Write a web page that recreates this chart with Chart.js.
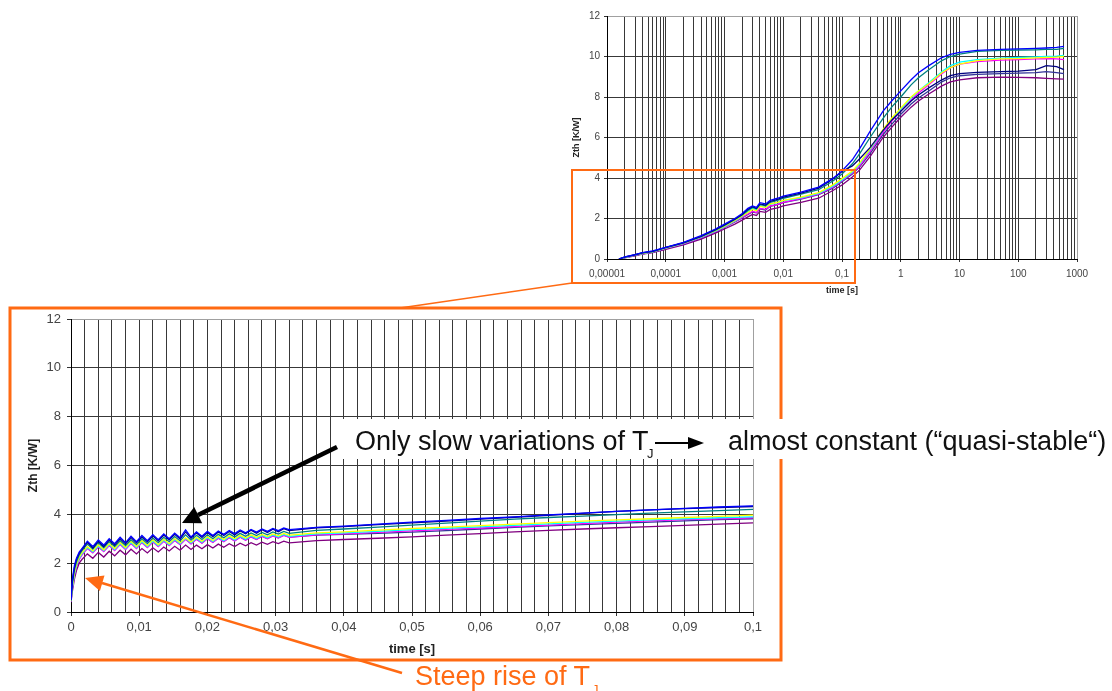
<!DOCTYPE html>
<html lang="de">
<head>
<meta charset="UTF-8">
<title>Zth – time</title>
<script src="https://cdn.jsdelivr.net/npm/chart.js"></script>
<style>
    body {
        margin: 0;
        width: 1112px;
        height: 691px;
        overflow: hidden;
        background: #fff;
        position: relative;
        font-family: "Liberation Sans", Arial, sans-serif;
    }
    canvas { position: absolute; }
    #topChart { left: 540px; top: 0; }
    #bottomChart { left: 0; top: 300px; }
    svg { position: absolute; left: 0; top: 0; }
</style>
</head>
<body>
<canvas id="topChart" width="560" height="300"></canvas>
<canvas id="bottomChart" width="790" height="370"></canvas>

<svg width="1112" height="691" font-family="'Liberation Sans', Arial, sans-serif">
    <!-- zoom frame + connector -->
    <rect x="572" y="170" width="283" height="113" fill="none" stroke="#ff6a13" stroke-width="2"/>
    <line x1="572" y1="283" x2="400" y2="308" stroke="#ff6a13" stroke-width="1.5"/>
    <rect x="10" y="308" width="771" height="352" fill="none" stroke="#ff6a13" stroke-width="3"/>

    <!-- text band -->
    <rect x="337" y="419" width="775" height="40" fill="#fff"/>
    <line x1="337" y1="447" x2="198" y2="515" stroke="#000" stroke-width="4.5"/>
    <polygon points="182,523 202.2,523.2 194.2,507" fill="#000"/>
    <text x="355" y="450" font-size="27" fill="#111">Only slow variations of T</text>
    <text x="647" y="458" font-size="13" fill="#111">J</text>
    <line x1="655" y1="443" x2="690" y2="443" stroke="#000" stroke-width="2"/>
    <polygon points="704,443 688,437 688,449" fill="#000"/>
    <text x="728" y="450" font-size="27" fill="#111">almost constant (“quasi-stable“)</text>

    <!-- steep rise -->
    <line x1="402" y1="673" x2="102" y2="583" stroke="#ff6a13" stroke-width="2.5"/>
    <polygon points="85,578 104.5,575.5 99.9,590.9" fill="#ff6a13"/>
    <text x="415" y="685" font-size="27" fill="#ff6a13">Steep rise of T</text>
    <text x="592" y="694" font-size="13" fill="#ff6a13">J</text>
</svg>

<script>
    // Farben der Messreihen (Excel-Standard)
    const seriesColors = ['#0000ff', '#000080', '#008080', '#ffff00', '#00ffff', '#ff00ff', '#333399', '#800080'];

    // --- oberes Diagramm: logarithmische Zeitachse ---
    const topDecades = [0.00001, 0.0001, 0.001, 0.01, 0.1, 1, 10, 100, 1000];
    const topTickLabels = ['0,00001', '0,0001', '0,001', '0,01', '0,1', '1', '10', '100', '1000'];

    const tLog = [0.000016, 0.00002, 0.00003, 0.00004, 0.00006,
        0.0001, 0.0002, 0.0004, 0.0007,
        0.001, 0.0015, 0.002, 0.0025, 0.003, 0.0035, 0.004, 0.005, 0.006, 0.008,
        0.01, 0.02, 0.04, 0.07,
        0.1, 0.15, 0.2, 0.3, 0.5, 0.7,
        1, 1.5, 2, 3, 5, 7,
        10, 20, 50,
        100, 200, 300, 450, 600];

    const logBlue = [0, 0.1, 0.22, 0.32, 0.4, 0.58, 0.82, 1.15, 1.48,
        1.72, 2.0, 2.25, 2.5, 2.62, 2.55, 2.78, 2.72, 2.9, 3.0,
        3.1, 3.3, 3.55, 3.98, 4.35, 4.9, 5.45, 6.3, 7.3, 7.8,
        8.3, 8.85, 9.2, 9.55, 9.95, 10.1, 10.2, 10.3, 10.35,
        10.38, 10.4, 10.42, 10.45, 10.5];
    const logNavy = [0, 0.09, 0.21, 0.3, 0.38, 0.57, 0.8, 1.12, 1.45,
        1.68, 1.96, 2.2, 2.45, 2.58, 2.5, 2.72, 2.66, 2.85, 2.95,
        3.05, 3.25, 3.5, 3.95, 4.32, 4.6, 4.95, 5.5, 6.35, 6.85,
        7.3, 7.8, 8.1, 8.45, 8.85, 9.05, 9.15, 9.22, 9.25,
        9.28, 9.35, 9.55, 9.5, 9.35];
    const logTeal = [0, 0.09, 0.2, 0.3, 0.37, 0.56, 0.8, 1.12, 1.43,
        1.66, 1.95, 2.18, 2.4, 2.55, 2.48, 2.68, 2.63, 2.8, 2.9,
        3.0, 3.2, 3.42, 3.85, 4.2, 4.7, 5.2, 6.0, 6.95, 7.5,
        8.0, 8.6, 8.95, 9.35, 9.8, 10.0, 10.12, 10.25, 10.3,
        10.32, 10.33, 10.35, 10.35, 10.4];
    const logYellow = [0, 0.08, 0.2, 0.28, 0.36, 0.55, 0.78, 1.1, 1.4,
        1.62, 1.9, 2.12, 2.3, 2.45, 2.38, 2.6, 2.55, 2.72, 2.8,
        2.9, 3.05, 3.28, 3.66, 3.97, 4.35, 4.75, 5.45, 6.4, 6.95,
        7.45, 8.0, 8.3, 8.65, 9.2, 9.45, 9.62, 9.8, 9.88,
        9.9, 9.93, 9.95, 9.97, 10.0];
    const logCyan = [0, 0.07, 0.19, 0.27, 0.35, 0.54, 0.77, 1.08, 1.38,
        1.6, 1.88, 2.1, 2.35, 2.5, 2.42, 2.62, 2.55, 2.7, 2.78,
        2.88, 3.02, 3.24, 3.6, 3.9, 4.3, 4.7, 5.4, 6.35, 6.9,
        7.4, 7.95, 8.3, 8.7, 9.25, 9.55, 9.72, 9.85, 9.92,
        9.95, 9.98, 10.0, 10.02, 10.05];
    const logMagenta = [0, 0.07, 0.18, 0.26, 0.34, 0.52, 0.75, 1.05, 1.35,
        1.57, 1.85, 2.05, 2.22, 2.35, 2.3, 2.5, 2.45, 2.62, 2.7,
        2.8, 2.98, 3.2, 3.55, 3.86, 4.25, 4.6, 5.3, 6.25, 6.8,
        7.3, 7.85, 8.2, 8.6, 9.15, 9.45, 9.62, 9.75, 9.82,
        9.85, 9.88, 9.9, 9.88, 9.85];
    const logSlate = [0, 0.07, 0.18, 0.26, 0.34, 0.52, 0.74, 1.04, 1.34,
        1.56, 1.83, 2.03, 2.2, 2.32, 2.28, 2.48, 2.42, 2.6, 2.68,
        2.78, 2.96, 3.18, 3.5, 3.82, 4.2, 4.55, 5.2, 6.15, 6.65,
        7.15, 7.65, 7.95, 8.3, 8.75, 8.95, 9.05, 9.12, 9.15,
        9.18, 9.2, 9.25, 9.2, 9.15];
    const logPurple = [0, 0.06, 0.16, 0.24, 0.32, 0.48, 0.7, 0.98, 1.28,
        1.48, 1.72, 1.92, 2.08, 2.2, 2.15, 2.35, 2.3, 2.45, 2.52,
        2.62, 2.8, 3.0, 3.38, 3.65, 4.05, 4.4, 5.05, 6.0, 6.5,
        7.0, 7.5, 7.8, 8.15, 8.55, 8.75, 8.85, 8.95, 8.98,
        8.97, 8.95, 8.92, 8.9, 8.88];

    // --- unteres Diagramm: lineare Zeitachse 0 ... 0,1 s ---
    const bottomTickLabels = ['0', '0,01', '0,02', '0,03', '0,04', '0,05', '0,06', '0,07', '0,08', '0,09', '0,1'];

    const tLin = [0, 0.0002, 0.0005, 0.0008, 0.0012, 0.0016,
        0.0024, 0.0032, 0.004, 0.0048, 0.0056, 0.0064, 0.0072, 0.008, 0.0088, 0.0096,
        0.0104, 0.0112, 0.012, 0.0128, 0.0136, 0.0144, 0.0152, 0.016, 0.0168, 0.0176,
        0.0184, 0.0192, 0.02, 0.0208, 0.0216, 0.0224, 0.0232, 0.024, 0.0248, 0.0256,
        0.0264, 0.0272, 0.028, 0.0288, 0.0296, 0.0304, 0.0312, 0.032,
        0.036, 0.04, 0.045, 0.05, 0.055, 0.06, 0.065, 0.07, 0.075, 0.08, 0.085, 0.09, 0.095, 0.1];

    const linBlue = [0.5, 1.35, 1.9, 2.2, 2.45, 2.6,
        2.9, 2.68, 2.95, 2.74, 3.0, 2.8, 3.06, 2.84, 3.1, 2.88,
        3.14, 2.92, 3.17, 2.96, 3.2, 3.0, 3.23, 3.04, 3.36, 3.07,
        3.28, 3.1, 3.3, 3.13, 3.32, 3.18, 3.34, 3.21, 3.36, 3.24,
        3.38, 3.27, 3.4, 3.3, 3.42, 3.33, 3.44, 3.37,
        3.47, 3.52, 3.6, 3.68, 3.75, 3.83, 3.9, 3.98, 4.05, 4.12, 4.18, 4.24, 4.3, 4.35];
    const linNavy = [0.48, 1.25, 1.82, 2.15, 2.4, 2.56,
        2.85, 2.62, 2.9, 2.68, 2.95, 2.74, 3.0, 2.79, 3.05, 2.83,
        3.08, 2.87, 3.12, 2.91, 3.15, 2.95, 3.18, 2.99, 3.28, 3.02,
        3.24, 3.06, 3.26, 3.09, 3.28, 3.13, 3.3, 3.16, 3.32, 3.2,
        3.35, 3.23, 3.37, 3.26, 3.39, 3.29, 3.41, 3.33,
        3.45, 3.5, 3.58, 3.65, 3.72, 3.8, 3.88, 3.96, 4.04, 4.12, 4.18, 4.23, 4.28, 4.32];
    const linTeal = [0.46, 1.15, 1.72, 2.05, 2.33, 2.5,
        2.78, 2.58, 2.84, 2.63, 2.88, 2.68, 2.92, 2.72, 2.96, 2.76,
        3.0, 2.8, 3.03, 2.84, 3.06, 2.88, 3.09, 2.91, 3.16, 2.94,
        3.14, 2.97, 3.16, 3.0, 3.18, 3.04, 3.2, 3.07, 3.22, 3.1,
        3.24, 3.13, 3.26, 3.16, 3.28, 3.19, 3.3, 3.22,
        3.34, 3.4, 3.48, 3.56, 3.64, 3.72, 3.8, 3.87, 3.93, 3.99, 4.05, 4.1, 4.15, 4.2];
    const linYellow = [0.45, 1.05, 1.6, 1.95, 2.25, 2.42,
        2.68, 2.5, 2.75, 2.55, 2.8, 2.6, 2.85, 2.64, 2.9, 2.68,
        2.93, 2.72, 2.96, 2.76, 2.98, 2.8, 3.01, 2.84, 3.04, 2.87,
        3.06, 2.9, 3.08, 2.93, 3.1, 2.97, 3.12, 3.0, 3.14, 3.03,
        3.16, 3.06, 3.18, 3.09, 3.2, 3.12, 3.22, 3.15,
        3.24, 3.28, 3.35, 3.42, 3.48, 3.54, 3.6, 3.66, 3.72, 3.77, 3.82, 3.87, 3.92, 3.97];
    const linCyan = [0.44, 1.0, 1.55, 1.9, 2.2, 2.38,
        2.64, 2.46, 2.7, 2.51, 2.76, 2.56, 2.8, 2.6, 2.85, 2.64,
        2.88, 2.68, 2.91, 2.72, 2.94, 2.76, 2.97, 2.8, 3.02, 2.83,
        3.02, 2.86, 3.04, 2.89, 3.06, 2.92, 3.08, 2.95, 3.1, 2.98,
        3.12, 3.01, 3.14, 3.04, 3.16, 3.07, 3.18, 3.1,
        3.2, 3.24, 3.3, 3.37, 3.43, 3.49, 3.55, 3.61, 3.67, 3.72, 3.77, 3.82, 3.86, 3.9];
    const linMagenta = [0.42, 0.95, 1.5, 1.85, 2.15, 2.33,
        2.6, 2.42, 2.66, 2.47, 2.72, 2.52, 2.76, 2.56, 2.8, 2.6,
        2.84, 2.64, 2.87, 2.68, 2.9, 2.72, 2.93, 2.76, 2.98, 2.79,
        2.98, 2.82, 3.0, 2.85, 3.02, 2.88, 3.04, 2.91, 3.06, 2.94,
        3.08, 2.97, 3.1, 3.0, 3.12, 3.03, 3.14, 3.06,
        3.16, 3.2, 3.26, 3.32, 3.38, 3.44, 3.5, 3.56, 3.62, 3.68, 3.73, 3.78, 3.82, 3.86];
    const linSlate = [0.43, 1.0, 1.52, 1.88, 2.18, 2.35,
        2.62, 2.44, 2.68, 2.49, 2.73, 2.54, 2.78, 2.58, 2.82, 2.62,
        2.85, 2.66, 2.88, 2.7, 2.91, 2.74, 2.94, 2.77, 2.99, 2.8,
        2.99, 2.83, 3.01, 2.86, 3.03, 2.89, 3.05, 2.92, 3.07, 2.95,
        3.09, 2.98, 3.11, 3.01, 3.13, 3.04, 3.15, 3.07,
        3.15, 3.18, 3.22, 3.27, 3.33, 3.4, 3.47, 3.53, 3.58, 3.63, 3.68, 3.73, 3.78, 3.82];
    const linPurple = [0.4, 0.85, 1.35, 1.7, 2.0, 2.15,
        2.38, 2.2, 2.44, 2.25, 2.49, 2.3, 2.53, 2.34, 2.57, 2.38,
        2.6, 2.42, 2.63, 2.46, 2.66, 2.5, 2.69, 2.53, 2.74, 2.56,
        2.74, 2.59, 2.76, 2.62, 2.78, 2.65, 2.8, 2.68, 2.82, 2.71,
        2.84, 2.74, 2.86, 2.77, 2.88, 2.8, 2.9, 2.83,
        2.92, 2.97, 3.02, 3.08, 3.15, 3.21, 3.28, 3.34, 3.4, 3.45, 3.5, 3.55, 3.6, 3.65];

    const logSeries = [logBlue, logNavy, logTeal, logYellow, logCyan, logMagenta, logSlate, logPurple];
    const linSeries = [linBlue, linNavy, linTeal, linYellow, linCyan, linMagenta, linSlate, linPurple];

    Chart.defaults.font.family = '"Liberation Sans", Arial, sans-serif';
    Chart.defaults.color = '#444';

    function makeDatasets(times, seriesList) {
        return seriesList.map((vals, k) => ({
            data: times.map((t, i) => ({ x: t, y: vals[i] })),
            borderColor: seriesColors[k],
            borderWidth: 1.3,
            pointRadius: 0,
            tension: 0,
            fill: false
        }));
    }

    function decadeIndex(v) {
        return topDecades.findIndex(d => Math.abs(v / d - 1) < 1e-6);
    }

    // Gitterlinien der Log-Achse: 1..9 je Dekade
    const logGrid = [];
    topDecades.slice(0, -1).forEach(d => {
        for (let m = 1; m <= 9; m++) logGrid.push(d * m);
    });
    logGrid.push(1000);

    const gridDark = '#383838';
    const frameGray = '#a0a0a0';

    // Oberes Diagramm
    new Chart(document.getElementById('topChart'), {
        type: 'line',
        data: { datasets: makeDatasets(tLog, logSeries) },
        options: {
            responsive: false,
            animation: false,
            layout: { padding: { top: 16, right: 23, left: 0, bottom: 0 } },
            plugins: { legend: { display: false }, tooltip: { enabled: false } },
            scales: {
                x: {
                    type: 'logarithmic',
                    min: 0.00001,
                    max: 1000,
                    afterBuildTicks: s => { s.ticks = logGrid.map(v => ({ value: v })); },
                    afterFit: s => { s.height = 41; },
                    ticks: {
                        autoSkip: false,
                        maxRotation: 0,
                        padding: 6,
                        font: { size: 10 },
                        callback: v => { const i = decadeIndex(v); return i >= 0 ? topTickLabels[i] : ''; }
                    },
                    grid: {
                        color: c => (c.tick && c.tick.value >= 999) ? frameGray : gridDark,
                        tickLength: 3,
                        tickColor: c => (c.tick && decadeIndex(c.tick.value) >= 0) ? '#333' : 'rgba(0,0,0,0)'
                    },
                    border: { color: '#000' },
                    title: { display: true, text: 'time [s]', font: { size: 9, weight: 'bold' }, color: '#222', padding: { top: 0, bottom: 4 } }
                },
                y: {
                    min: 0,
                    max: 12,
                    afterFit: s => { s.width = 67; },
                    ticks: { stepSize: 2, padding: 4, font: { size: 10 } },
                    grid: {
                        color: c => (c.tick && c.tick.value >= 12) ? frameGray : gridDark,
                        tickLength: 3,
                        tickColor: '#333'
                    },
                    border: { color: '#000' },
                    title: { display: true, text: 'Zth [K/W]', font: { size: 9, weight: 'bold' }, color: '#222', padding: { top: 31, bottom: 0 } }
                }
            }
        }
    });

    // Unteres Diagramm
    new Chart(document.getElementById('bottomChart'), {
        type: 'line',
        data: { datasets: makeDatasets(tLin, linSeries) },
        options: {
            responsive: false,
            animation: false,
            layout: { padding: { top: 19, right: 37, left: 0, bottom: 0 } },
            plugins: { legend: { display: false }, tooltip: { enabled: false } },
            scales: {
                x: {
                    type: 'linear',
                    min: 0,
                    max: 0.1,
                    afterFit: s => { s.height = 58; },
                    ticks: {
                        stepSize: 0.002,
                        autoSkip: false,
                        maxRotation: 0,
                        padding: 4,
                        font: { size: 13 },
                        callback: v => {
                            const k = Math.round(v * 100);
                            return Math.abs(v * 100 - k) < 1e-6 ? bottomTickLabels[k] : '';
                        }
                    },
                    grid: {
                        color: c => (c.tick && c.tick.value >= 0.0999) ? frameGray : gridDark,
                        tickLength: 4,
                        tickColor: c => {
                            const v = c.tick ? c.tick.value * 100 : 0.5;
                            return Math.abs(v - Math.round(v)) < 1e-6 ? '#333' : 'rgba(0,0,0,0)';
                        }
                    },
                    border: { color: '#000' },
                    title: { display: true, text: 'time [s]', font: { size: 13, weight: 'bold' }, color: '#222', padding: { top: 0, bottom: 13 } }
                },
                y: {
                    min: 0,
                    max: 12,
                    afterFit: s => { s.width = 71; },
                    ticks: { stepSize: 2, padding: 6, font: { size: 13 } },
                    grid: {
                        color: c => (c.tick && c.tick.value >= 12) ? frameGray : gridDark,
                        tickLength: 4,
                        tickColor: '#333'
                    },
                    border: { color: '#000' },
                    title: { display: true, text: 'Zth [K/W]', font: { size: 12, weight: 'bold' }, color: '#222', padding: { top: 26, bottom: 0 } }
                }
            }
        }
    });
</script>
</body>
</html>
